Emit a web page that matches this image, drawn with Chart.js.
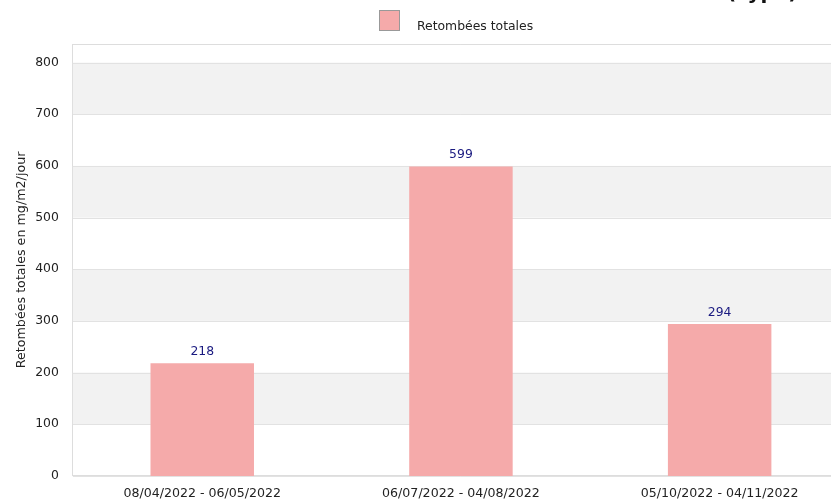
<!DOCTYPE html>
<html><head><meta charset="utf-8">
<script src="https://cdn.jsdelivr.net/npm/chart.js@4"></script>
<style>
html,body{margin:0;padding:0;background:#fff;overflow:hidden;width:831px;height:501px}
#wrap{position:absolute;left:0;top:0;width:912px;height:501px}
</style></head>
<body>
<div id="wrap"><canvas id="c" width="912" height="501"></canvas></div>
<script>
const categories = ["08/04/2022 - 06/05/2022", "06/07/2022 - 04/08/2022", "05/10/2022 - 04/11/2022"];
const seriesName = "Retombées totales";
const values = [218, 599, 294];
const yTicks = [0, 100, 200, 300, 400, 500, 600, 700, 800];
const yTitle = "Retombées totales en mg/m2/jour";
const topTitle = "(Type)";
const yMax = 836;

const FONT = "'DejaVu Sans', sans-serif";
const BAR_COLOR = '#f5aaaa';

const bandsPlugin = {
  id: 'bands',
  beforeDatasetsDraw(chart) {
    const {ctx, chartArea, scales} = chart;
    const y = scales.y;
    ctx.save();
    ctx.fillStyle = '#f2f2f2';
    for (let i = 1; i < yTicks.length; i += 2) {
      const top = y.getPixelForValue(yTicks[yTicks.length - i]);
      const bot = y.getPixelForValue(yTicks[yTicks.length - i - 1]);
      ctx.fillRect(chartArea.left, top, chartArea.right - chartArea.left, bot - top);
    }
    ctx.strokeStyle = '#e2e2e2';
    ctx.lineWidth = 1;
    yTicks.forEach(v => {
      const p = Math.round(y.getPixelForValue(v)) + 0.5;
      ctx.beginPath(); ctx.moveTo(chartArea.left, p); ctx.lineTo(chartArea.right, p); ctx.stroke();
    });
    ctx.strokeStyle = '#dddddd';
    const t = Math.round(chartArea.top) + 0.5;
    ctx.beginPath(); ctx.moveTo(chartArea.left, t); ctx.lineTo(chartArea.right, t); ctx.stroke();
    ctx.restore();
  },
  afterDatasetsDraw(chart) {
    const {ctx} = chart;
    const meta = chart.getDatasetMeta(0);
    ctx.save();
    ctx.font = "12.4px " + FONT;
    ctx.fillStyle = '#1a1a80';
    ctx.textAlign = 'center';
    ctx.textBaseline = 'bottom';
    meta.data.forEach((bar, i) => {
      ctx.fillText(String(chart.data.datasets[0].data[i]), bar.x, bar.y - 5);
    });
    ctx.restore();
  },
  afterDraw(chart) {
    const {ctx} = chart;
    ctx.save();
    ctx.font = "12.4px " + FONT;
    const tw = ctx.measureText(seriesName).width;
    const total = 20 + 18 + tw;
    const x0 = Math.round(chart.width / 2 - total / 2);
    ctx.fillStyle = BAR_COLOR;
    ctx.fillRect(x0, 10, 20, 20);
    ctx.strokeStyle = '#999999';
    ctx.lineWidth = 1;
    ctx.strokeRect(x0 + 0.5, 10.5, 20, 20);
    ctx.fillStyle = '#222';
    ctx.textBaseline = 'alphabetic';
    ctx.textAlign = 'left';
    ctx.fillText(seriesName, x0 + 38, 29.5);
    // cropped page title at top right (only its lowest part is visible)
    ctx.font = "bold 20px " + FONT;
    ctx.fillStyle = '#111';
    ctx.fillText(topTitle, 727, -1);
    ctx.restore();
  }
};

new Chart(document.getElementById('c'), {
  type: 'bar',
  data: {
    labels: categories,
    datasets: [{
      label: seriesName,
      data: values,
      backgroundColor: BAR_COLOR,
      borderWidth: 0,
      barPercentage: 0.4,
      categoryPercentage: 1.0
    }]
  },
  plugins: [bandsPlugin],
  options: {
    responsive: false,
    animation: false,
    devicePixelRatio: 1,
    layout: { padding: { top: 44, right: 63, left: 14, bottom: -10 } },
    plugins: {
      tooltip: { enabled: false },
      legend: { display: false }
    },
    scales: {
      x: {
        grid: { display: false, drawTicks: false },
        border: { display: true, color: '#dddddd' },
        ticks: { color: '#222', font: { family: FONT, size: 12.6 }, padding: 10, maxRotation: 0 }
      },
      y: {
        min: 0, max: yMax,
        afterBuildTicks: (s) => { s.ticks = yTicks.map(v => ({ value: v })); },
        grid: { display: false, drawTicks: false },
        border: { display: true, color: '#dddddd' },
        ticks: { color: '#222', font: { family: FONT, size: 12.4 }, padding: 14 },
        title: { display: true, text: yTitle, color: '#222', font: { family: FONT, size: 12.7 }, padding: { top: 0, bottom: -8 } }
      }
    }
  }
});
</script>
</body></html>
